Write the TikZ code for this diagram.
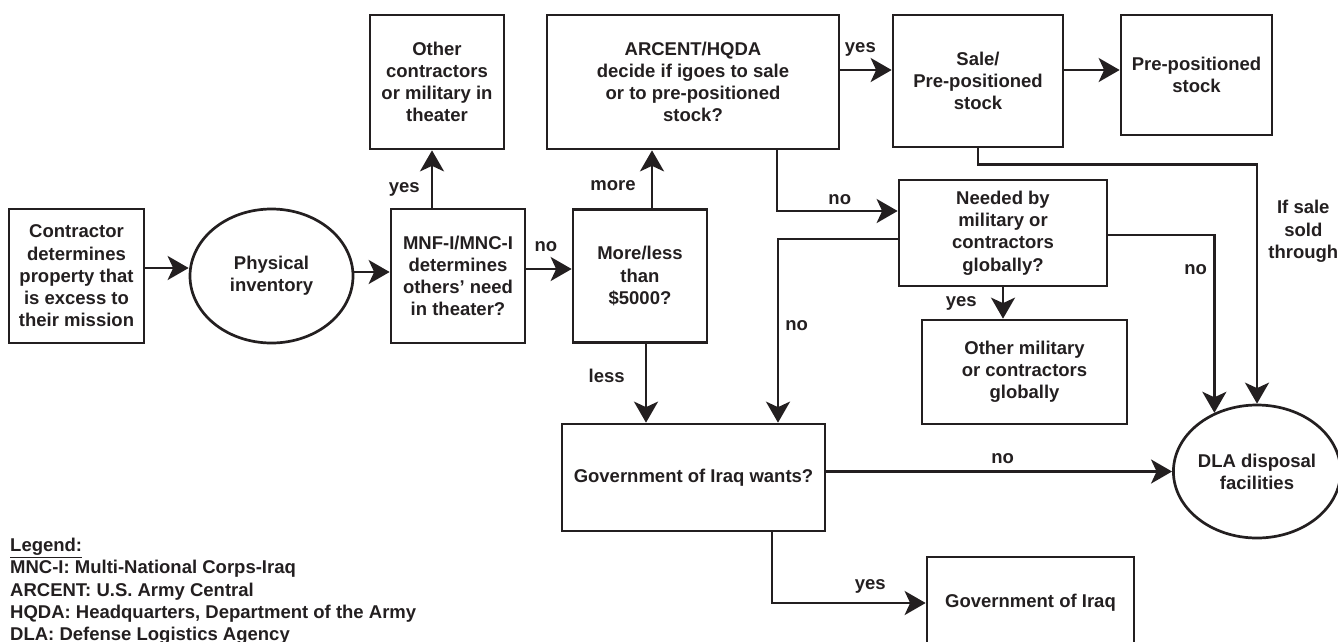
\documentclass[tikz,border=0pt]{standalone}
\usepackage{fontspec}
\setmainfont{Liberation Sans}
\usepackage{tikz}
\usetikzlibrary{shapes.geometric, arrows.meta, positioning, calc}
\definecolor{flowink}{HTML}{231F20}

\tikzset{
  flowtext/.style={text=flowink, font=\fontsize{18.5}{22.2}\selectfont\bfseries, inner sep=0pt},
  flowbox/.style={flowtext, draw=flowink, line width=2.7pt, rectangle, align=center},
  flowoval/.style={flowbox, ellipse},
  flowline/.style={draw=flowink, line width=2.7pt},
  flowarrow/.style={flowline, -{Stealth[length=21pt, width=24pt, inset=5.5pt]}}
}

\begin{document}
\begin{tikzpicture}[x=1pt, y=-1pt]
  \useasboundingbox (0,0) rectangle (1338,641);

  % Left part of the flow
  \node[flowbox, minimum width=135pt, minimum height=134pt] (contr) at (76.5,276) {Contractor\\determines\\property that\\is excess to\\their mission};
  \node[flowoval, minimum width=163pt, minimum height=134pt] (phys) at (271.5,276) {Physical\\inventory};
  \node[flowbox, minimum width=134pt, minimum height=134pt] (mnf) at (458,276) {MNF-I/MNC-I\\determines\\others’ need\\in theater?};
  \node[flowbox, minimum width=134pt, minimum height=134pt] (othr) at (437,82) {Other\\contractors\\or military in\\theater};
  \node[flowbox, minimum width=134pt, minimum height=133pt] (more) at (640,276) {More/less\\than\\\$5000?};

  % Upper row
  \node[flowbox, minimum width=292pt, minimum height=134pt] (arcent) at (693,82) {ARCENT/HQDA\\decide if igoes to sale\\or to pre-positioned\\stock?};
  \node[flowbox, minimum width=170pt, minimum height=132pt] (sale) at (978,81) {Sale/\\Pre-positioned\\stock};
  \node[flowbox, minimum width=151pt, minimum height=120pt] (pre) at (1196.5,75) {Pre-positioned\\stock};

  % Middle and lower part
  \node[flowbox, minimum width=208pt, minimum height=106pt] (need) at (1003,233) {Needed by\\military or\\contractors\\globally?};
  \node[flowbox, minimum width=205pt, minimum height=104pt] (othm) at (1024.5,372) {Other military\\or contractors\\globally};
  \node[flowoval, minimum width=163pt, minimum height=133pt] (dla) at (1257,471.5) {DLA disposal\\facilities};
  \node[flowbox, minimum width=263pt, minimum height=107pt] (gwant) at (693.5,477.5) {Government of Iraq wants?};
  \node[flowbox, minimum width=207pt, minimum height=92pt] (giraq) at (1030.5,603) {Government of Iraq};

  % Connectors
  \draw[flowarrow] ([yshift=8pt]contr.east) -- ([yshift=8pt]phys.west);
  \draw[flowarrow] ([yshift=4pt]phys.east) -- ([yshift=4pt]mnf.west);
  \draw[flowarrow] ([xshift=-26pt]mnf.north) -- node[flowtext, pos=.27, anchor=base east, xshift=-11pt] (lyesa) {yes} ([xshift=-5pt]othr.south);
  \draw[flowarrow] ([yshift=7pt]mnf.east) -- node[flowtext, pos=.43, anchor=base, yshift=18pt] (lnoa) {no} ([yshift=7pt]more.west);
  \draw[flowarrow] ([xshift=12pt]more.north) -- node[flowtext, pos=.3, anchor=base east, xshift=-15pt] (lmore) {more} ([xshift=12pt]more.north |- arcent.south);
  \draw[flowarrow] ([xshift=6pt]more.south) -- node[flowtext, pos=.49, anchor=base east, xshift=-20pt] (lless) {less} ([xshift=6pt]more.south |- gwant.north);
  \draw[flowarrow] ([yshift=12pt]arcent.east) -- node[flowtext, pos=.39, anchor=base, yshift=18pt] (lyesb) {yes} ([yshift=12pt]arcent.east -| sale.west);
  \draw[flowarrow] ([yshift=11pt]sale.east) -- ([yshift=11pt]sale.east -| pre.west);
  \draw[flowarrow] ([xshift=84pt]arcent.south) |- node[flowtext, pos=.76, anchor=base, yshift=7pt] (lnob) {no} ([yshift=22pt]need.west);
  \draw[flowarrow] ([yshift=-6pt]need.west) -| node[flowtext, pos=.75, anchor=base west, xshift=6pt] (lnoc) {no} ([xshift=84.5pt]gwant.north);
  \draw[flowarrow] (need.south) -- node[flowtext, pos=.62, anchor=base east, xshift=-25pt] (lyesc) {yes} (need.south |- othm.north);
  \draw[flowarrow] ([yshift=-2pt]need.east) -| node[flowtext, pos=.61, anchor=base east, xshift=-6pt] (lnod) {no} (dla.126);
  \draw[flowarrow] (sale.south) -- ++(0,16) -| node[flowtext, pos=.64, anchor=west, xshift=10pt, align=center] (lsale) {If sale\\sold\\through} (dla.north);
  \draw[flowarrow] (gwant.east |- dla.west) -- node[flowtext, pos=.51, anchor=base, yshift=8pt] (lnoe) {no} (dla.west);
  \draw[flowarrow] ([xshift=78.5pt]gwant.south) |- node[flowtext, pos=.82, anchor=base, yshift=14pt] (lyesd) {yes} (giraq.west);

  % Legend
  \node[flowtext, anchor=north west, align=left] (legend) at (10,538) {\underline{Legend:}\\MNC-I: Multi-National Corps-Iraq\\ARCENT: U.S. Army Central\\HQDA: Headquarters, Department of the Army\\DLA: Defense Logistics Agency};
\end{tikzpicture}
\end{document}
